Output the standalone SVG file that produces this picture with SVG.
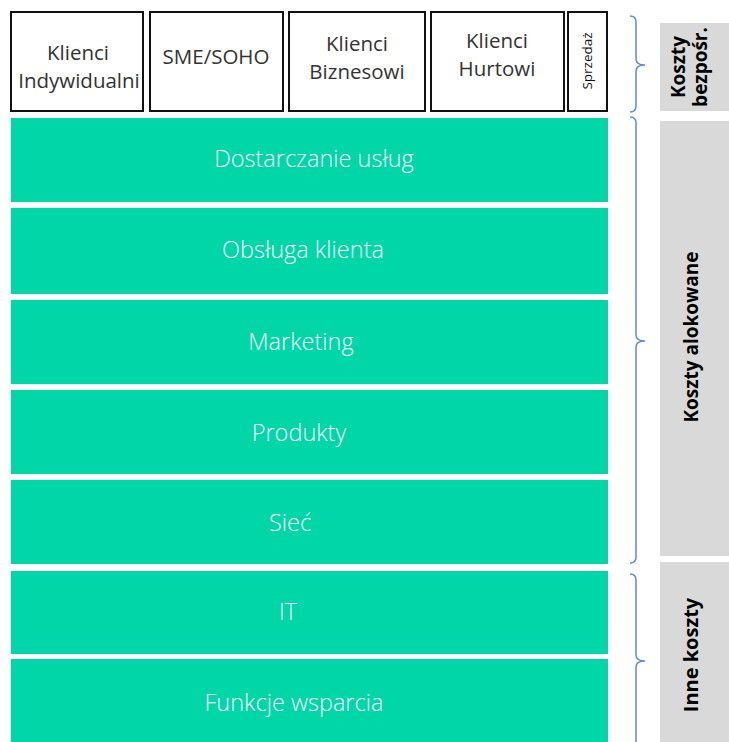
<svg xmlns="http://www.w3.org/2000/svg" width="729" height="742" viewBox="0 0 729 742">
<style>
.seg{fill:#fff;stroke:#111;stroke-width:2}
.st{font-family:"Open Sans","Noto Sans",sans-serif;font-size:20.5px;fill:#333;text-anchor:middle}
.bar{fill:#00D6A8}
.bt{font-family:"Open Sans","Noto Sans",sans-serif;font-weight:300;font-size:23.5px;fill:#fff;text-anchor:middle}
.gray{fill:#D9D9D9}
.lab{font-family:"Open Sans","Noto Sans",sans-serif;font-weight:700;font-size:19px;fill:#000;text-anchor:middle}
.brace{fill:none;stroke:#5B8DD0;stroke-width:1.5}
</style>
<g id="seg-indywidualni"><rect class="seg" x="11" y="12" width="132" height="99"/><text class="st" x="78" y="60">Klienci</text><text class="st" x="79" y="88">Indywidualni</text></g>
<g id="seg-sme"><rect class="seg" x="150" y="12" width="133" height="99"/><text class="st" x="216" y="64">SME/SOHO</text></g>
<g id="seg-biznesowi"><rect class="seg" x="289" y="12" width="136" height="99"/><text class="st" x="357" y="51">Klienci</text><text class="st" x="357" y="79">Biznesowi</text></g>
<g id="seg-hurtowi"><rect class="seg" x="431" y="12" width="133" height="99"/><text class="st" x="497" y="48">Klienci</text><text class="st" x="497" y="76">Hurtowi</text></g>
<g id="seg-sprzedaz"><rect class="seg" x="568" y="12" width="39" height="99"/><text class="st" style="font-size:13.5px;fill:#111" transform="translate(592,61) rotate(-90)">Sprzedaż</text></g>
<g id="bar-dostarczanie"><rect class="bar" x="11" y="118" width="597" height="84"/><text class="bt" x="314" y="167">Dostarczanie usług</text></g>
<g id="bar-obsluga"><rect class="bar" x="11" y="208" width="597" height="86"/><text class="bt" x="303" y="258">Obsługa klienta</text></g>
<g id="bar-marketing"><rect class="bar" x="11" y="300" width="597" height="84"/><text class="bt" x="301" y="350">Marketing</text></g>
<g id="bar-produkty"><rect class="bar" x="11" y="390" width="597" height="84"/><text class="bt" x="299" y="441">Produkty</text></g>
<g id="bar-siec"><rect class="bar" x="11" y="480" width="597" height="84"/><text class="bt" x="290" y="531">Sieć</text></g>
<g id="bar-it"><rect class="bar" x="11" y="571" width="597" height="83"/><text class="bt" x="288" y="620">IT</text></g>
<g id="bar-funkcje"><rect class="bar" x="11" y="659" width="597" height="83"/><text class="bt" x="294" y="711">Funkcje wsparcia</text></g>
<g id="label-bezposr"><rect class="gray" x="660" y="23" width="69" height="88"/><text class="lab" transform="translate(685,67) rotate(-90)">Koszty</text><text class="lab" transform="translate(707,67) rotate(-90)">bezpośr.</text></g>
<g id="label-alokowane"><rect class="gray" x="660" y="121" width="69" height="435"/><text class="lab" transform="translate(698,337) rotate(-90)">Koszty alokowane</text></g>
<g id="label-inne"><rect class="gray" x="660" y="562" width="69" height="180"/><text class="lab" style="font-size:20px" transform="translate(698,655) rotate(-90)">Inne koszty</text></g>
<g id="connectors">
<path class="brace" d="M630,16 Q636,16 636,22 L636,59 Q636,65 645,65 Q636,65 636,71 L636,106 Q636,112 630,112"/>
<path class="brace" d="M630,117 Q636,117 636,123 L636,335 Q636,341 645,341 Q636,341 636,347 L636,557 Q636,563 630,563"/>
<path class="brace" d="M630,574 Q636,574 636,580 L636,655 Q636,661 645,661 Q636,661 636,667 L636,742"/>
</g>
</svg>
